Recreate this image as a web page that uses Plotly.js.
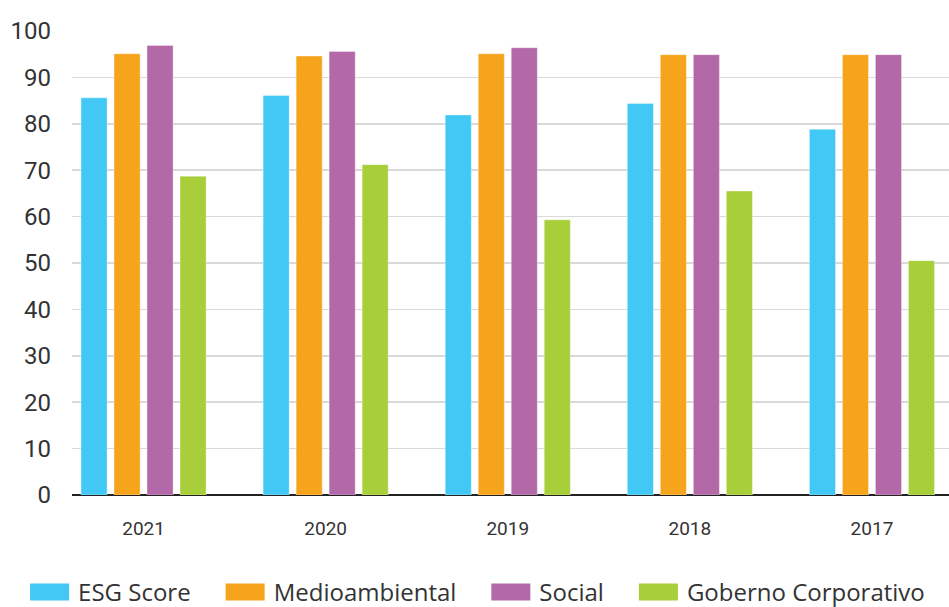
<!DOCTYPE html>
<html>
<head>
<meta charset="utf-8">
<script src="https://cdn.plot.ly/plotly-3.0.1.min.js"></script>
<style>
html,body{margin:0;padding:0;background:#fff;}
#chart{width:949px;height:607px;}
</style>
</head>
<body>
<div id="chart"></div>
<script>
const years = ["2021", "2020", "2019", "2018", "2017"];
const esgScore = [85.6, 86.1, 81.9, 84.4, 78.8];
const medioambiental = [95.1, 94.6, 95.1, 94.9, 94.9];
const social = [96.9, 95.6, 96.4, 94.9, 94.9];
const gobierno = [68.7, 71.2, 59.3, 65.5, 50.5];
const seriesNames = ["ESG Score", "Medioambiental", "Social", "Goberno Corporativo"];
const seriesColors = ["#42C8F4", "#F7A41D", "#B368A8", "#A8CE3A"];
const yTicks = [0, 10, 20, 30, 40, 50, 60, 70, 80, 90, 100];

const seriesValues = [esgScore, medioambiental, social, gobierno];
const traces = seriesValues.map((vals, i) => ({
  type: "bar",
  name: seriesNames[i],
  x: years,
  y: vals,
  marker: {color: seriesColors[i], line: {color: "rgba(255,255,255,0.35)", width: 1}},
  hoverinfo: "x+y+name"
}));

const layout = {
  width: 949,
  height: 607,
  margin: {l: 72, r: 0, t: 31, b: 112, autoexpand: false},
  paper_bgcolor: "#ffffff",
  plot_bgcolor: "#ffffff",
  font: {family: "Roboto, 'DejaVu Sans', sans-serif", color: "#333333"},
  barmode: "group",
  bargap: 0.275,
  bargroupgap: 0.21,
  showlegend: true,
  legend: {
    orientation: "h",
    x: -0.082,
    xanchor: "left",
    y: -0.21,
    yanchor: "middle",
    font: {size: 24, color: "#333333", family: "'Open Sans', Roboto, sans-serif"},
    itemwidth: 68,
    traceorder: "normal"
  },
  xaxis: {
    type: "category",
    range: [-0.393, 4.423],
    showgrid: false,
    zeroline: false,
    showline: false,
    ticks: "",
    ticklabelstandoff: 20,
    tickfont: {size: 19, color: "#333333"}
  },
  yaxis: {
    range: [0, 100],
    tickvals: yTicks,
    ticktext: yTicks.map(String),
    showgrid: true,
    gridcolor: "#d9d9d9",
    gridwidth: 1.5,
    zeroline: true,
    zerolinecolor: "#222222",
    zerolinewidth: 2.5,
    showline: false,
    ticks: "",
    ticklabelstandoff: 20,
    tickfont: {size: 24, color: "#333333"}
  }
};

Plotly.newPlot("chart", traces, layout, {displayModeBar: false, staticPlot: true}).then(() => {
  document.querySelectorAll(".legendpoints path").forEach(p => {
    p.setAttribute("d", "M-9,-8.5H30V8.5H-9Z");
    p.style.strokeWidth = "0";
  });
});
</script>
</body>
</html>
